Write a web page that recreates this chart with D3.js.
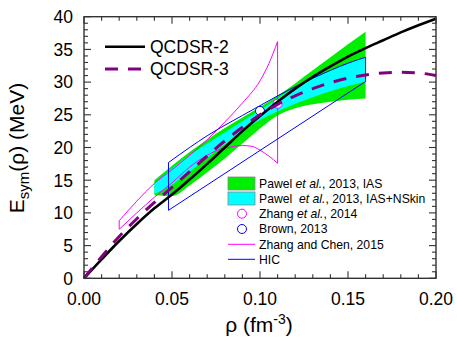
<!DOCTYPE html>
<html>
<head>
<meta charset="utf-8">
<script src="https://cdn.jsdelivr.net/npm/d3@7/dist/d3.min.js"></script>
<style>
  html, body { margin: 0; padding: 0; background: #fff; }
  svg { display: block; font-family: "Liberation Sans", Arial, sans-serif; }
</style>
</head>
<body>
<svg id="chart" width="457" height="341"></svg>
<script>
// Density grid (fm^-3) and symmetry energy (MeV) for the QCD sum-rule curves
const qcdsr2Rho = [0, 0.01, 0.02, 0.03, 0.04, 0.05, 0.06, 0.07, 0.08, 0.09, 0.10, 0.11, 0.12, 0.13, 0.14, 0.15, 0.16, 0.17, 0.18, 0.19, 0.20];
const qcdsr2E   = [0, 2.9, 5.7, 8.3, 10.7, 12.8, 15.1, 17.5, 20.0, 22.5, 24.8, 27.0, 29.0, 30.8, 32.4, 33.9, 35.2, 36.4, 37.6, 38.7, 39.7];
const qcdsr3Rho = [0, 0.01, 0.02, 0.03, 0.04, 0.05, 0.06, 0.07, 0.08, 0.09, 0.10, 0.11, 0.12, 0.13, 0.14, 0.15, 0.16, 0.17, 0.18, 0.19, 0.20];
const qcdsr3E   = [0, 3.3, 6.4, 9.1, 11.6, 13.9, 16.3, 18.7, 21.0, 23.1, 25.0, 26.6, 27.9, 29.0, 29.9, 30.6, 31.1, 31.4, 31.5, 31.4, 31.0];

// Pawel et al. 2013 bands (IAS; IAS+NSkin)
const bandRho     = [0.04, 0.05, 0.06, 0.07, 0.08, 0.09, 0.10, 0.11, 0.12, 0.13, 0.14, 0.15, 0.16];
const iasUpper    = [15.0, 17.2, 19.3, 21.2, 23.0, 24.6, 26.2, 27.9, 29.8, 31.8, 33.8, 35.8, 37.7];
const iasLower    = [12.7, 12.6, 14.2, 16.2, 18.3, 20.6, 22.9, 24.9, 26.0, 26.6, 27.0, 27.3, 27.5];
const nskinUpper  = [14.5, 16.8, 18.8, 20.6, 22.3, 24.0, 25.7, 27.5, 29.2, 30.5, 31.7, 32.8, 33.8];
const nskinLower  = [12.9, 14.3, 16.3, 18.4, 20.5, 22.5, 24.2, 25.5, 26.7, 27.7, 28.6, 29.4, 30.1];

// Zhang and Chen 2015 contour
const zcUpperRho = [0.02, 0.03, 0.04, 0.05, 0.06, 0.07, 0.08, 0.09, 0.10, 0.105, 0.11];
const zcUpperE   = [8.8, 11.8, 14.5, 16.6, 18.8, 21.2, 23.9, 26.8, 30.2, 32.8, 36.2];
const zcLowerRho = [0.02, 0.03, 0.04, 0.05, 0.06, 0.065, 0.07, 0.075, 0.08, 0.085, 0.09, 0.095, 0.10, 0.105, 0.11];
const zcLowerE   = [7.5, 10.0, 12.4, 14.6, 17.0, 18.0, 18.8, 19.5, 19.9, 20.15, 20.3, 20.2, 19.6, 18.7, 17.6];

// HIC constraint
const hicUpperRho = [0.048, 0.06, 0.07, 0.08, 0.09, 0.10, 0.11, 0.12, 0.13, 0.14, 0.15, 0.16];
const hicUpperE   = [17.7, 20.0, 21.8, 23.4, 24.9, 26.4, 27.9, 29.3, 30.6, 31.8, 32.9, 33.8];
const hicLowerRho = [0.048, 0.16];
const hicLowerE   = [10.4, 30.1];

// Single-point constraints
const zhang2014 = { rho: 0.11, E: 26.7 };
const brown2013 = { rho: 0.10, E: 25.6 };

// Axis ticks
const xTicks = [0, 0.05, 0.10, 0.15, 0.20];
const xTickLabels = ["0.00", "0.05", "0.10", "0.15", "0.20"];
const yTicks = [0, 5, 10, 15, 20, 25, 30, 35, 40];

const svg = d3.select("#chart");
const plotLeft = 84, plotRight = 436, plotTop = 16.7, plotBottom = 278.3;
const x = d3.scaleLinear().domain([0, 0.2]).range([plotLeft, plotRight]);
const y = d3.scaleLinear().domain([0, 40]).range([plotBottom, plotTop]);

const zip = (xs, ys) => xs.map((v, i) => [v, ys[i]]);
const smooth = d3.line().x(d => x(d[0])).y(d => y(d[1])).curve(d3.curveMonotoneX);
const straight = d3.line().x(d => x(d[0])).y(d => y(d[1]));
const band = (up, lo) => d3.area().x(d => x(d[0])).y0(d => y(d[2])).y1(d => y(d[1])).curve(d3.curveMonotoneX)(bandRho.map((r, i) => [r, up[i], lo[i]]));

const plot = svg.append("g");

// Bands
plot.append("path").attr("d", band(iasUpper, iasLower)).attr("fill", "#00ee00");
plot.append("path").attr("d", band(nskinUpper, nskinLower)).attr("fill", "#00ffff");

// Zhang and Chen 2015 contour
const zcUp = zip(zcUpperRho, zcUpperE), zcLo = zip(zcLowerRho, zcLowerE);
const magenta = "#ff00ff";
plot.append("path").attr("d", smooth(zcUp)).attr("fill", "none").attr("stroke", magenta).attr("stroke-width", 1);
plot.append("path").attr("d", smooth(zcLo)).attr("fill", "none").attr("stroke", magenta).attr("stroke-width", 1);
plot.append("path").attr("d", straight([zcUp[0], zcLo[0]])).attr("stroke", magenta).attr("stroke-width", 1);
plot.append("path").attr("d", straight([zcUp[zcUp.length - 1], zcLo[zcLo.length - 1]])).attr("stroke", magenta).attr("stroke-width", 1);

// HIC contour
const hicUp = zip(hicUpperRho, hicUpperE), hicLo = zip(hicLowerRho, hicLowerE);
const blue = "#0000ff";
plot.append("path").attr("d", smooth(hicUp)).attr("fill", "none").attr("stroke", blue).attr("stroke-width", 1);
plot.append("path").attr("d", straight(hicLo)).attr("fill", "none").attr("stroke", blue).attr("stroke-width", 1);
plot.append("path").attr("d", straight([hicUp[0], hicLo[0]])).attr("stroke", blue).attr("stroke-width", 1);
plot.append("path").attr("d", straight([hicUp[hicUp.length - 1], hicLo[hicLo.length - 1]])).attr("stroke", blue).attr("stroke-width", 1);

// Point constraints
plot.append("circle").attr("cx", x(brown2013.rho)).attr("cy", y(brown2013.E)).attr("r", 4.5)
  .attr("fill", "#fff").attr("stroke", blue).attr("stroke-width", 1);
plot.append("circle").attr("cx", x(zhang2014.rho)).attr("cy", y(zhang2014.E)).attr("r", 4.5)
  .attr("fill", "#fff").attr("stroke", magenta).attr("stroke-width", 1);

// QCDSR curves
plot.append("path").attr("d", smooth(zip(qcdsr2Rho, qcdsr2E))).attr("fill", "none")
  .attr("stroke", "#000").attr("stroke-width", 2.6);
plot.append("path").attr("d", smooth(zip(qcdsr3Rho, qcdsr3E))).attr("fill", "none")
  .attr("stroke", "#800080").attr("stroke-width", 3).attr("stroke-dasharray", "13,10");

// Frame and ticks
const axisColor = "#333";
svg.append("rect").attr("x", plotLeft).attr("y", plotTop).attr("width", plotRight - plotLeft).attr("height", plotBottom - plotTop)
  .attr("fill", "none").attr("stroke", axisColor).attr("stroke-width", 1.4);

const xMinor = d3.range(0, 0.2001, 0.01);
const yMinor = d3.range(0, 40.001, 1);
const ticks = svg.append("g").attr("stroke", axisColor).attr("stroke-width", 1.1);
xMinor.forEach((v, i) => {
  const len = i % 5 === 0 ? 7 : 4;
  ticks.append("line").attr("x1", x(v)).attr("x2", x(v)).attr("y1", plotBottom).attr("y2", plotBottom - len);
  ticks.append("line").attr("x1", x(v)).attr("x2", x(v)).attr("y1", plotTop).attr("y2", plotTop + len);
});
yMinor.forEach((v, i) => {
  const len = i % 5 === 0 ? 7 : 4;
  ticks.append("line").attr("y1", y(v)).attr("y2", y(v)).attr("x1", plotLeft).attr("x2", plotLeft + len);
  ticks.append("line").attr("y1", y(v)).attr("y2", y(v)).attr("x1", plotRight).attr("x2", plotRight - len);
});

// Tick labels
svg.append("g").selectAll("text").data(xTicks).join("text")
  .attr("x", d => x(d)).attr("y", 305).attr("text-anchor", "middle")
  .attr("font-size", 17.5).attr("fill", "#000").text((d, i) => xTickLabels[i]);
svg.append("g").selectAll("text").data(yTicks).join("text")
  .attr("x", 73).attr("y", d => y(d) + 6.3).attr("text-anchor", "end")
  .attr("font-size", 17.5).attr("fill", "#000").text(d => d);

// Axis titles
const xt = svg.append("text").attr("x", 259).attr("y", 332).attr("text-anchor", "middle")
  .attr("font-size", 21).attr("fill", "#000");
xt.append("tspan").text("ρ (fm");
xt.append("tspan").attr("font-size", 14).attr("dy", -8).text("-3");
xt.append("tspan").attr("dy", 8).text(")");

const yt = svg.append("text").attr("transform", "translate(23.5,148) rotate(-90)")
  .attr("text-anchor", "middle").attr("font-size", 21).attr("fill", "#000");
yt.append("tspan").text("E");
yt.append("tspan").attr("font-size", 15).attr("dy", 5).text("sym");
yt.append("tspan").attr("dy", -5).text("(ρ) (MeV)");

// Legend: QCDSR curves
const leg1 = svg.append("g");
leg1.append("line").attr("x1", 105).attr("x2", 145).attr("y1", 46.7).attr("y2", 46.7)
  .attr("stroke", "#000").attr("stroke-width", 2.6);
leg1.append("text").attr("x", 150).attr("y", 53).attr("font-size", 17.5).text("QCDSR-2");
leg1.append("line").attr("x1", 105).attr("x2", 145).attr("y1", 69).attr("y2", 69)
  .attr("stroke", "#800080").attr("stroke-width", 3).attr("stroke-dasharray", "13,10");
leg1.append("text").attr("x", 150).attr("y", 75.3).attr("font-size", 17.5).text("QCDSR-3");

// Legend: constraints
const leg2 = svg.append("g").attr("font-size", 12.2);
const lx = 259;
leg2.append("rect").attr("x", 228).attr("y", 177).attr("width", 27).attr("height", 13)
  .attr("fill", "#00ee00").attr("stroke", "#888").attr("stroke-width", 0.8);
leg2.append("rect").attr("x", 228).attr("y", 192).attr("width", 27).attr("height", 13)
  .attr("fill", "#00ffff").attr("stroke", "#888").attr("stroke-width", 0.8);
leg2.append("circle").attr("cx", 242).attr("cy", 213.7).attr("r", 4.5)
  .attr("fill", "#fff").attr("stroke", magenta).attr("stroke-width", 1);
leg2.append("circle").attr("cx", 242).attr("cy", 229).attr("r", 4.5)
  .attr("fill", "#fff").attr("stroke", blue).attr("stroke-width", 1);
leg2.append("line").attr("x1", 228).attr("x2", 255).attr("y1", 244.3).attr("y2", 244.3)
  .attr("stroke", magenta).attr("stroke-width", 1);
leg2.append("line").attr("x1", 228).attr("x2", 255).attr("y1", 259.3).attr("y2", 259.3)
  .attr("stroke", blue).attr("stroke-width", 1);

const t1 = leg2.append("text").attr("x", lx).attr("y", 188);
t1.append("tspan").text("Pawel ");
t1.append("tspan").attr("font-style", "italic").text("et al.");
t1.append("tspan").text(", 2013, IAS");
const t2 = leg2.append("text").attr("x", lx).attr("y", 203).attr("xml:space", "preserve");
t2.append("tspan").text("Pawel  ");
t2.append("tspan").attr("font-style", "italic").text("et al.");
t2.append("tspan").text(", 2013, IAS+NSkin");
const t3 = leg2.append("text").attr("x", lx).attr("y", 218);
t3.append("tspan").text("Zhang ");
t3.append("tspan").attr("font-style", "italic").text("et al.");
t3.append("tspan").text(", 2014");
leg2.append("text").attr("x", lx).attr("y", 233.3).text("Brown, 2013");
leg2.append("text").attr("x", lx).attr("y", 248.6).text("Zhang and Chen, 2015");
leg2.append("text").attr("x", lx).attr("y", 263.6).text("HIC");
</script>
</body>
</html>
